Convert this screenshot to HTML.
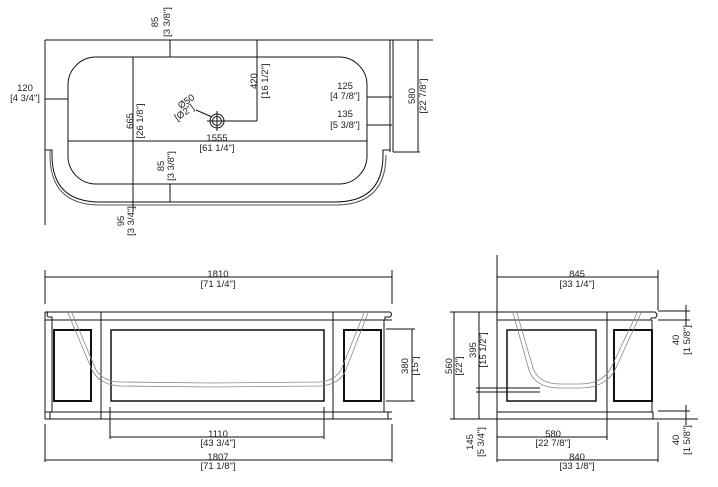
<!DOCTYPE html>
<html><head><meta charset="utf-8"><style>
html,body{margin:0;padding:0;background:#fff;width:718px;height:487px;overflow:hidden}
svg{display:block}
text{font-family:"Liberation Sans",sans-serif;font-size:9.5px;fill:#222}
</style></head><body>
<svg width="718" height="487" viewBox="0 0 718 487" xmlns="http://www.w3.org/2000/svg">
<g fill="none" stroke="#111" stroke-width="1">
<!-- TOP VIEW -->
<line x1="45" y1="40" x2="433" y2="40"/>
<line x1="45" y1="40" x2="45" y2="225"/>
<line x1="390" y1="40" x2="390" y2="152"/>
<line x1="393" y1="40" x2="393" y2="152"/>
<rect x="68" y="57" width="299" height="127" rx="28" ry="28"/>
<path d="M45 150 H52 V155 Q52 202 100 202 H335 Q383 202 383 155 V150 H390"/>
<path d="M50 150 V155 Q50 205 100 205 H335 Q386 205 386 155" stroke="#555"/>
<!-- drain -->
<circle cx="217" cy="121" r="7"/><circle cx="217" cy="121" r="4.5"/>
<line x1="217" y1="111" x2="217" y2="131"/><line x1="207" y1="121" x2="227" y2="121"/>
<line x1="196" y1="110" x2="212" y2="117"/>
<!-- dims top -->
<line x1="68" y1="141" x2="367" y2="141"/>
<line x1="133" y1="57" x2="133" y2="202"/>
<line x1="170" y1="40" x2="170" y2="57"/>
<line x1="133" y1="57" x2="170" y2="57"/>
<line x1="170" y1="184" x2="170" y2="202"/>
<line x1="133" y1="202" x2="170" y2="202"/>
<line x1="257" y1="40" x2="257" y2="121"/>
<line x1="224" y1="121" x2="257" y2="121"/>
<line x1="45" y1="99" x2="68" y2="99"/>
<line x1="367" y1="97" x2="392" y2="97"/>
<line x1="367" y1="125" x2="392" y2="125"/>
<line x1="418" y1="40" x2="418" y2="152"/>
<line x1="393" y1="152" x2="420" y2="152"/>
<line x1="133" y1="202" x2="133" y2="212"/>

<!-- FRONT ELEVATION -->
<line x1="45" y1="277" x2="392" y2="277"/>
<line x1="45" y1="270" x2="45" y2="304"/><line x1="392" y1="270" x2="392" y2="304"/>
<path d="M45 312 H390 Q393 314 390 317 H385 V320 H52 V317 H48 Q46 314 48 312"/>
<line x1="45" y1="312" x2="45" y2="419"/>
<line x1="45" y1="320" x2="392" y2="320"/>
<line x1="384" y1="320" x2="384" y2="412"/>
<line x1="52" y1="320" x2="52" y2="412"/>
<line x1="101" y1="312" x2="101" y2="419"/>
<line x1="333" y1="312" x2="333" y2="419"/>
<path d="M45 412 H50 V419 M392 412 H388 V419"/>
<line x1="45" y1="412" x2="392" y2="412"/>
<line x1="45" y1="419" x2="392" y2="419"/>
<rect x="54" y="330" width="37" height="71" stroke-width="2"/>
<rect x="111" y="330" width="213" height="71" stroke-width="1.5"/>
<rect x="344" y="330" width="37" height="71" stroke-width="2"/>
<line x1="386" y1="329" x2="415" y2="329"/><line x1="386" y1="401" x2="415" y2="401"/>
<line x1="412" y1="329" x2="412" y2="401"/>
<line x1="110" y1="437" x2="324" y2="437"/>
<line x1="110" y1="407" x2="110" y2="439"/><line x1="324" y1="407" x2="324" y2="439"/>
<line x1="45" y1="460" x2="392" y2="460"/>
<line x1="45" y1="424" x2="45" y2="462"/><line x1="392" y1="424" x2="392" y2="462"/>
<!-- SIDE ELEVATION -->
<line x1="497" y1="255" x2="497" y2="419"/>
<line x1="497" y1="277" x2="658" y2="277"/>
<line x1="658" y1="270" x2="658" y2="310"/>
<path d="M497 312 H655 Q659 315 655 318 H651 V320 H497"/>
<line x1="607" y1="312" x2="607" y2="419"/>
<line x1="652" y1="320" x2="652" y2="412"/>
<line x1="497" y1="412" x2="653" y2="412"/>
<line x1="653" y1="412" x2="653" y2="419"/>
<line x1="497" y1="419" x2="698" y2="419"/>
<rect x="507" y="330" width="89" height="71" stroke-width="1.5"/>
<rect x="614" y="330" width="38" height="71" stroke-width="2"/>
<line x1="450" y1="312" x2="497" y2="312"/>
<line x1="454" y1="312" x2="454" y2="419"/>
<line x1="450" y1="419" x2="497" y2="419"/>
<line x1="479" y1="312" x2="479" y2="419"/>
<line x1="476" y1="388" x2="540" y2="388"/>
<line x1="476" y1="392" x2="540" y2="392"/>
<line x1="497" y1="437" x2="607" y2="437"/>
<line x1="607" y1="419" x2="607" y2="440"/>
<line x1="497" y1="419" x2="497" y2="462"/>
<line x1="497" y1="460" x2="658" y2="460"/>
<line x1="658" y1="422" x2="658" y2="462"/>
<line x1="658" y1="311" x2="690" y2="311"/><line x1="658" y1="320" x2="690" y2="320"/>
<line x1="658" y1="411" x2="690" y2="411"/>
<line x1="686" y1="305" x2="686" y2="326"/>
<line x1="686" y1="405" x2="686" y2="425"/>
</g>
<!-- tub ghost lines -->
<g fill="none" stroke="#888" stroke-width="0.8">
<path d="M68 313 L92 370 Q100 385 120 386 L210 387 L320 386 Q338 385 345 372 L368 313"/>
<path d="M72 313 L96 370 Q104 382 120 382 L210 383 L320 382 Q334 381 341 370 L364 313"/>
<path d="M513 313 L529 370 Q535 388 560 388 L580 388 Q605 388 615 370 L641 313"/>
<path d="M517 313 L533 368 Q539 384 560 384 L580 384 Q602 384 611 368 L637 313"/>
</g>
<g>
<text x="158" y="22" transform="rotate(-90 158 22)" text-anchor="middle">85</text>
<text x="170" y="22" transform="rotate(-90 170 22)" text-anchor="middle">[3 3/8"]</text>
<text x="25" y="91" text-anchor="middle">120</text>
<text x="25" y="101" text-anchor="middle">[4 3/4"]</text>
<text x="257" y="81" transform="rotate(-90 257 81)" text-anchor="middle">420</text>
<text x="268" y="81" transform="rotate(-90 268 81)" text-anchor="middle">[16 1/2"]</text>
<text x="188" y="104" transform="rotate(-35 188 104)" text-anchor="middle">Ø50</text>
<text x="186" y="115" transform="rotate(-35 186 115)" text-anchor="middle">[Ø2"]</text>
<text x="217" y="141" text-anchor="middle">1555</text>
<text x="217" y="151" text-anchor="middle">[61 1/4"]</text>
<text x="133" y="121" transform="rotate(-90 133 121)" text-anchor="middle">665</text>
<text x="143" y="121" transform="rotate(-90 143 121)" text-anchor="middle">[26 1/8"]</text>
<text x="164" y="166" transform="rotate(-90 164 166)" text-anchor="middle">85</text>
<text x="174" y="166" transform="rotate(-90 174 166)" text-anchor="middle">[3 3/8"]</text>
<text x="124" y="221" transform="rotate(-90 124 221)" text-anchor="middle">95</text>
<text x="134" y="221" transform="rotate(-90 134 221)" text-anchor="middle">[3 3/4"]</text>
<text x="345" y="89" text-anchor="middle">125</text>
<text x="345" y="99" text-anchor="middle">[4 7/8"]</text>
<text x="345" y="117" text-anchor="middle">135</text>
<text x="345" y="128" text-anchor="middle">[5 3/8"]</text>
<text x="415" y="96" transform="rotate(-90 415 96)" text-anchor="middle">580</text>
<text x="426" y="96" transform="rotate(-90 426 96)" text-anchor="middle">[22 7/8"]</text>
<text x="218" y="277" text-anchor="middle">1810</text>
<text x="218" y="287" text-anchor="middle">[71 1/4"]</text>
<text x="408" y="366" transform="rotate(-90 408 366)" text-anchor="middle">380</text>
<text x="418" y="366" transform="rotate(-90 418 366)" text-anchor="middle">[15"]</text>
<text x="218" y="437" text-anchor="middle">1110</text>
<text x="218" y="446" text-anchor="middle">[43 3/4"]</text>
<text x="218" y="460" text-anchor="middle">1807</text>
<text x="218" y="469" text-anchor="middle">[71 1/8"]</text>
<text x="577" y="277" text-anchor="middle">845</text>
<text x="577" y="287" text-anchor="middle">[33 1/4"]</text>
<text x="452" y="366" transform="rotate(-90 452 366)" text-anchor="middle">560</text>
<text x="462" y="366" transform="rotate(-90 462 366)" text-anchor="middle">[22"]</text>
<text x="476" y="350" transform="rotate(-90 476 350)" text-anchor="middle">395</text>
<text x="486" y="350" transform="rotate(-90 486 350)" text-anchor="middle">[15 1/2"]</text>
<text x="473" y="442" transform="rotate(-90 473 442)" text-anchor="middle">145</text>
<text x="484" y="442" transform="rotate(-90 484 442)" text-anchor="middle">[5 3/4"]</text>
<text x="553" y="437" text-anchor="middle">580</text>
<text x="553" y="446" text-anchor="middle">[22 7/8"]</text>
<text x="577" y="460" text-anchor="middle">840</text>
<text x="577" y="469" text-anchor="middle">[33 1/8"]</text>
<text x="679" y="340" transform="rotate(-90 679 340)" text-anchor="middle">40</text>
<text x="690" y="340" transform="rotate(-90 690 340)" text-anchor="middle">[1 5/8"]</text>
<text x="679" y="440" transform="rotate(-90 679 440)" text-anchor="middle">40</text>
<text x="690" y="440" transform="rotate(-90 690 440)" text-anchor="middle">[1 5/8"]</text>
</g>
</svg>
</body></html>
